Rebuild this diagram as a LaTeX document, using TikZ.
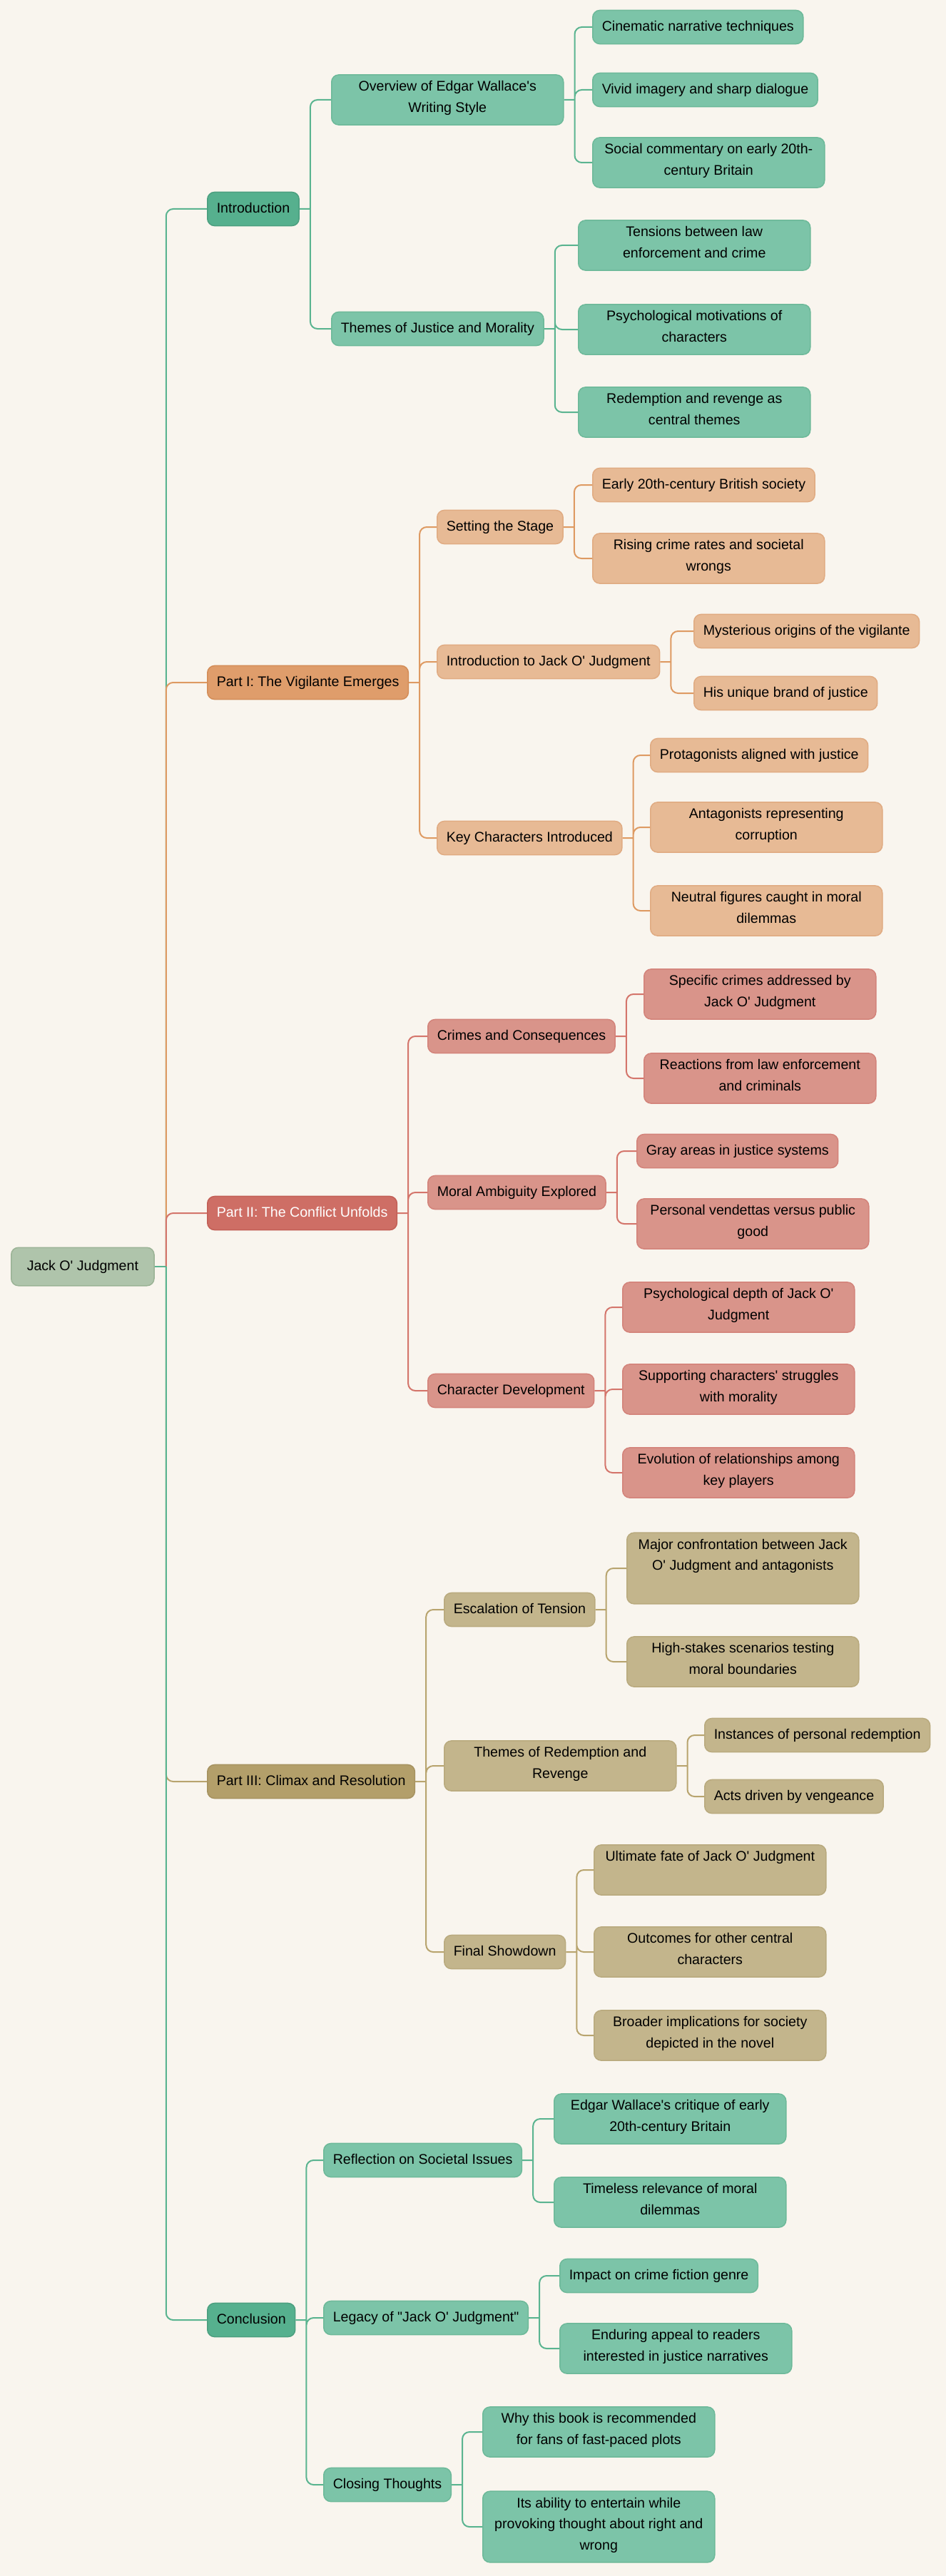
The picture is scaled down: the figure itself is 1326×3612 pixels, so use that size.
\documentclass[tikz,border=0pt]{standalone}
\usepackage{fontspec}
\setmainfont{Liberation Sans}[Ligatures=TeXOff]
\usepackage{tikz}

\definecolor{bgc}{HTML}{F9F5EE}
\definecolor{rootF}{HTML}{AFC4AB}
\definecolor{rootD}{HTML}{9BB396}
\definecolor{grF}{HTML}{56B08E}
\definecolor{grD}{HTML}{4C9F7F}
\definecolor{grL}{HTML}{7CC4A8}
\definecolor{grLD}{HTML}{6DB999}
\definecolor{grLine}{HTML}{5AB490}
\definecolor{orF}{HTML}{DF9D6B}
\definecolor{orD}{HTML}{D38D58}
\definecolor{orL}{HTML}{E7BA95}
\definecolor{orLD}{HTML}{E0AB82}
\definecolor{orLine}{HTML}{DE9A62}
\definecolor{rdF}{HTML}{CE6E65}
\definecolor{rdD}{HTML}{C25F56}
\definecolor{rdL}{HTML}{D9948A}
\definecolor{rdLD}{HTML}{D3837A}
\definecolor{rdLine}{HTML}{D4756B}
\definecolor{tnF}{HTML}{B39F6A}
\definecolor{tnD}{HTML}{A69260}
\definecolor{tnL}{HTML}{C3B58C}
\definecolor{tnLD}{HTML}{B9AA7E}
\definecolor{tnLine}{HTML}{B8A46E}

\tikzset{
  box/.style={anchor=west, rounded corners=5pt, line width=0.75pt,
    inner xsep=6.5pt, inner ysep=4.4pt, align=center,
    font=\fontsize{9.8}{14.75}\selectfont,
    execute at begin node=\strut, execute at end node=\strut},
  wide/.style={minimum width=162.5pt},
  rootbox/.style={box, fill=rootF, draw=rootD, inner xsep=11pt, inner ysep=6pt},
  grA/.style={box, fill=grF, draw=grD},
  grB/.style={box, fill=grL, draw=grLD},
  orA/.style={box, fill=orF, draw=orD},
  orB/.style={box, fill=orL, draw=orLD},
  rdA/.style={box, fill=rdF, draw=rdD, text=white},
  rdB/.style={box, fill=rdL, draw=rdLD},
  tnA/.style={box, fill=tnF, draw=tnD},
  tnB/.style={box, fill=tnL, draw=tnLD},
  lnG/.style={draw=grLine, line width=1pt, rounded corners=5pt},
  lnO/.style={draw=orLine, line width=1pt, rounded corners=5pt},
  lnR/.style={draw=rdLine, line width=1pt, rounded corners=5pt},
  lnT/.style={draw=tnLine, line width=1pt, rounded corners=5pt}
}

\begin{document}
\begin{tikzpicture}[x=0.5pt, y=-0.5pt]
  \fill[bgc] (0,0) rectangle (1326,3612);
  \useasboundingbox (0,0) rectangle (1326,3612);

  % root and main parts
  \node[rootbox] (root) at (15,1776) {Jack O' Judgment};
  \node[grA] (intro) at (290,293) {Introduction};
  \node[orA] (partI) at (290,957) {Part I: The Vigilante Emerges};
  \node[rdA] (partII) at (290,1701) {Part II: The Conflict Unfolds};
  \node[tnA] (partIII) at (290,2498) {Part III: Climax and Resolution};
  \node[grA] (concl) at (290,3253) {Conclusion};

  % introduction
  \node[grB, wide] (overview) at (464,140) {Overview of Edgar Wallace's\\Writing Style};
  \node[grB] (justice) at (464,461) {Themes of Justice and Morality};
  \node[grB] (cinema) at (830,38) {Cinematic narrative techniques};
  \node[grB] (vivid) at (830,126) {Vivid imagery and sharp dialogue};
  \node[grB, wide] (social) at (830,228) {Social commentary on early 20th-\\century Britain};
  \node[grB, wide] (tension) at (810,344) {Tensions between law\\enforcement and crime};
  \node[grB, wide] (motive) at (810,462) {Psychological motivations of\\characters};
  \node[grB, wide] (redeem) at (810,578) {Redemption and revenge as\\central themes};

  % part I
  \node[orB] (stage) at (612,739) {Setting the Stage};
  \node[orB] (jack) at (612,928) {Introduction to Jack O' Judgment};
  \node[orB] (keychar) at (612,1175) {Key Characters Introduced};
  \node[orB] (early) at (830,680) {Early 20th-century British society};
  \node[orB, wide] (rising) at (830,783) {Rising crime rates and societal\\wrongs};
  \node[orB] (origin) at (972,885) {Mysterious origins of the vigilante};
  \node[orB] (brand) at (972,972) {His unique brand of justice};
  \node[orB] (protag) at (911,1059) {Protagonists aligned with justice};
  \node[orB, wide] (antag) at (911,1160) {Antagonists representing\\corruption};
  \node[orB, wide] (neutral) at (911,1277) {Neutral figures caught in moral\\dilemmas};

  % part II
  \node[rdB] (crimes) at (599,1453) {Crimes and Consequences};
  \node[rdB] (moral) at (599,1672) {Moral Ambiguity Explored};
  \node[rdB] (chardev) at (599,1950) {Character Development};
  \node[rdB, wide] (specific) at (902,1394) {Specific crimes addressed by\\Jack O' Judgment};
  \node[rdB, wide] (react) at (902,1512) {Reactions from law enforcement\\and criminals};
  \node[rdB] (gray) at (892,1614) {Gray areas in justice systems};
  \node[rdB, wide] (vendetta) at (892,1716) {Personal vendettas versus public\\good};
  \node[rdB, wide] (depth) at (872,1833) {Psychological depth of Jack O'\\Judgment};
  \node[rdB, wide] (support) at (872,1948) {Supporting characters' struggles\\with morality};
  \node[rdB, wide] (evolve) at (872,2065) {Evolution of relationships among\\key players};

  % part III
  \node[tnB] (escal) at (622,2257) {Escalation of Tension};
  \node[tnB, wide] (redrev) at (622,2476) {Themes of Redemption and\\Revenge};
  \node[tnB] (showdown) at (622,2737) {Final Showdown};
  \node[tnB, wide] (major) at (878,2199) {Major confrontation between Jack\\O' Judgment and antagonists\\};
  \node[tnB, wide] (stakes) at (878,2330) {High-stakes scenarios testing\\moral boundaries};
  \node[tnB] (instance) at (987,2433) {Instances of personal redemption};
  \node[tnB] (acts) at (987,2519) {Acts driven by vengeance};
  \node[tnB, wide] (fate) at (832,2622) {Ultimate fate of Jack O' Judgment\\};
  \node[tnB, wide] (outcome) at (832,2737) {Outcomes for other central\\characters};
  \node[tnB, wide] (broader) at (832,2854) {Broader implications for society\\depicted in the novel};

  % conclusion
  \node[grB] (reflect) at (453,3029) {Reflection on Societal Issues};
  \node[grB] (legacy) at (453,3250) {Legacy of "Jack O' Judgment"};
  \node[grB] (closing) at (453,3484) {Closing Thoughts};
  \node[grB, wide] (critique) at (776,2971) {Edgar Wallace's critique of early\\20th-century Britain};
  \node[grB, wide] (timeless) at (776,3088) {Timeless relevance of moral\\dilemmas};
  \node[grB] (impact) at (784,3191) {Impact on crime fiction genre};
  \node[grB, wide] (appeal) at (784,3293) {Enduring appeal to readers\\interested in justice narratives};
  \node[grB, wide] (whybook) at (676,3410) {Why this book is recommended\\for fans of fast-paced plots};
  \node[grB, wide] (ability) at (676,3543) {Its ability to entertain while\\provoking thought about right and\\wrong};

  % trunk
  \coordinate (rootJ) at ([xshift=8pt]root.east);
  \draw[lnG] (rootJ) |- (intro.west);
  \draw[lnO] (rootJ) |- (partI.west);
  \draw[lnR] (rootJ) |- (partII.west);
  \draw[lnT] (rootJ) |- (partIII.west);
  \draw[lnG] (rootJ) |- (concl.west);
  \draw[lnG] (root.east) -- (rootJ);

  % branches
  \draw[lnG] (intro.east) -- ++(15,0) coordinate (introJ) (introJ) |- (overview.west) (introJ) |- (justice.west);
  \draw[lnG] (overview.east) -- ++(15,0) coordinate (ovJ) (ovJ) |- (cinema.west) (ovJ) |- (vivid.west) (ovJ) |- (social.west);
  \draw[lnG] (justice.east) -- ++(15,0) coordinate (jsJ) (jsJ) |- (tension.west) (jsJ) |- (motive.west) (jsJ) |- (redeem.west);

  \draw[lnO] (partI.east) -- ++(15,0) coordinate (pIJ) (pIJ) |- (stage.west) (pIJ) |- (jack.west) (pIJ) |- (keychar.west);
  \draw[lnO] (stage.east) -- ++(15,0) coordinate (stJ) (stJ) |- (early.west) (stJ) |- (rising.west);
  \draw[lnO] (jack.east) -- ++(15,0) coordinate (jkJ) (jkJ) |- (origin.west) (jkJ) |- (brand.west);
  \draw[lnO] (keychar.east) -- ++(15,0) coordinate (kcJ) (kcJ) |- (protag.west) (kcJ) |- (antag.west) (kcJ) |- (neutral.west);

  \draw[lnR] (partII.east) -- ++(15,0) coordinate (pIIJ) (pIIJ) |- (crimes.west) (pIIJ) |- (moral.west) (pIIJ) |- (chardev.west);
  \draw[lnR] (crimes.east) -- ++(15,0) coordinate (crJ) (crJ) |- (specific.west) (crJ) |- (react.west);
  \draw[lnR] (moral.east) -- ++(15,0) coordinate (moJ) (moJ) |- (gray.west) (moJ) |- (vendetta.west);
  \draw[lnR] (chardev.east) -- ++(15,0) coordinate (cdJ) (cdJ) |- (depth.west) (cdJ) |- (support.west) (cdJ) |- (evolve.west);

  \draw[lnT] (partIII.east) -- ++(15,0) coordinate (pIIIJ) (pIIIJ) |- (escal.west) (pIIIJ) |- (redrev.west) (pIIIJ) |- (showdown.west);
  \draw[lnT] (escal.east) -- ++(15,0) coordinate (esJ) (esJ) |- (major.west) (esJ) |- (stakes.west);
  \draw[lnT] (redrev.east) -- ++(15,0) coordinate (rrJ) (rrJ) |- (instance.west) (rrJ) |- (acts.west);
  \draw[lnT] (showdown.east) -- ++(15,0) coordinate (sdJ) (sdJ) |- (fate.west) (sdJ) |- (outcome.west) (sdJ) |- (broader.west);

  \draw[lnG] (concl.east) -- ++(15,0) coordinate (coJ) (coJ) |- (reflect.west) (coJ) |- (legacy.west) (coJ) |- (closing.west);
  \draw[lnG] (reflect.east) -- ++(15,0) coordinate (rfJ) (rfJ) |- (critique.west) (rfJ) |- (timeless.west);
  \draw[lnG] (legacy.east) -- ++(15,0) coordinate (lgJ) (lgJ) |- (impact.west) (lgJ) |- (appeal.west);
  \draw[lnG] (closing.east) -- ++(15,0) coordinate (clJ) (clJ) |- (whybook.west) (clJ) |- (ability.west);
\end{tikzpicture}
\end{document}
